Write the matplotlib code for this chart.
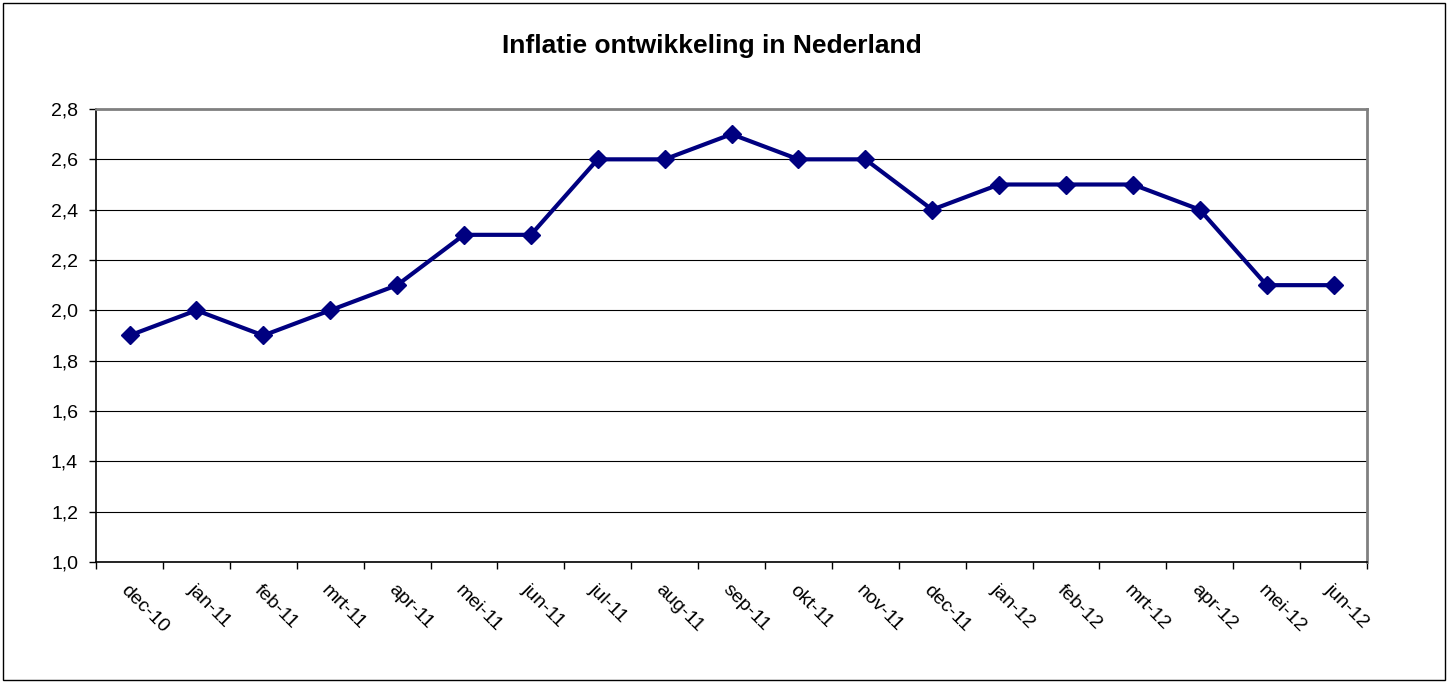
import matplotlib.pyplot as plt
import numpy as np
from matplotlib.patches import Rectangle

months = ['dec-10', 'jan-11', 'feb-11', 'mrt-11', 'apr-11', 'mei-11', 'jun-11',
          'jul-11', 'aug-11', 'sep-11', 'okt-11', 'nov-11', 'dec-11', 'jan-12',
          'feb-12', 'mrt-12', 'apr-12', 'mei-12', 'jun-12']
inflatie = [1.9, 2.0, 1.9, 2.0, 2.1, 2.3, 2.3, 2.6, 2.6, 2.7, 2.6, 2.6,
            2.4, 2.5, 2.5, 2.5, 2.4, 2.1, 2.1]
yticks = [1.0, 1.2, 1.4, 1.6, 1.8, 2.0, 2.2, 2.4, 2.6, 2.8]

plt.rcParams['font.family'] = ['Liberation Sans', 'DejaVu Sans']

fig = plt.figure(figsize=(14.49, 6.83), dpi=100)
fig.patches.append(Rectangle((0.002, 0.004), 0.995, 0.991, transform=fig.transFigure,
                             fill=False, edgecolor='black', linewidth=1))
ax = fig.add_axes([0.0663, 0.1772, 0.8771, 0.6632])

x = np.arange(len(months)) + 0.5
ax.plot(x, inflatie, color='#000080', linewidth=3, marker='D', markersize=9.5,
        zorder=3)

ax.set_xlim(0, len(months))
ax.set_ylim(1.0, 2.8)
ax.set_yticks(yticks)
ax.set_yticklabels([f'{v:.1f}'.replace('.', ',') for v in yticks], fontsize=14)
ax.grid(axis='y', color='black', linewidth=0.8)
ax.set_axisbelow(True)

ax.set_xticks(np.arange(len(months) + 1))
ax.set_xticklabels([])
ax.set_xticks(x, minor=True)
ax.set_xticklabels(months, minor=True, rotation=-45, ha='left', va='top',
                   rotation_mode='anchor', fontsize=14)
ax.tick_params(axis='x', which='minor', length=0, pad=14)
ax.tick_params(axis='y', which='major', pad=8)
ax.tick_params(axis='both', which='major', length=5, width=1, color='black')

ax.spines['top'].set_color('#808080')
ax.spines['right'].set_color('#808080')
ax.spines['top'].set_linewidth(2)
ax.spines['right'].set_linewidth(2)
ax.spines['left'].set_linewidth(1.2)
ax.spines['bottom'].set_linewidth(1.2)

fig.text(0.491, 0.932, 'Inflatie ontwikkeling in Nederland', ha='center',
         va='center', fontsize=19, fontweight='bold')

fig.savefig('out.png', dpi=100)
